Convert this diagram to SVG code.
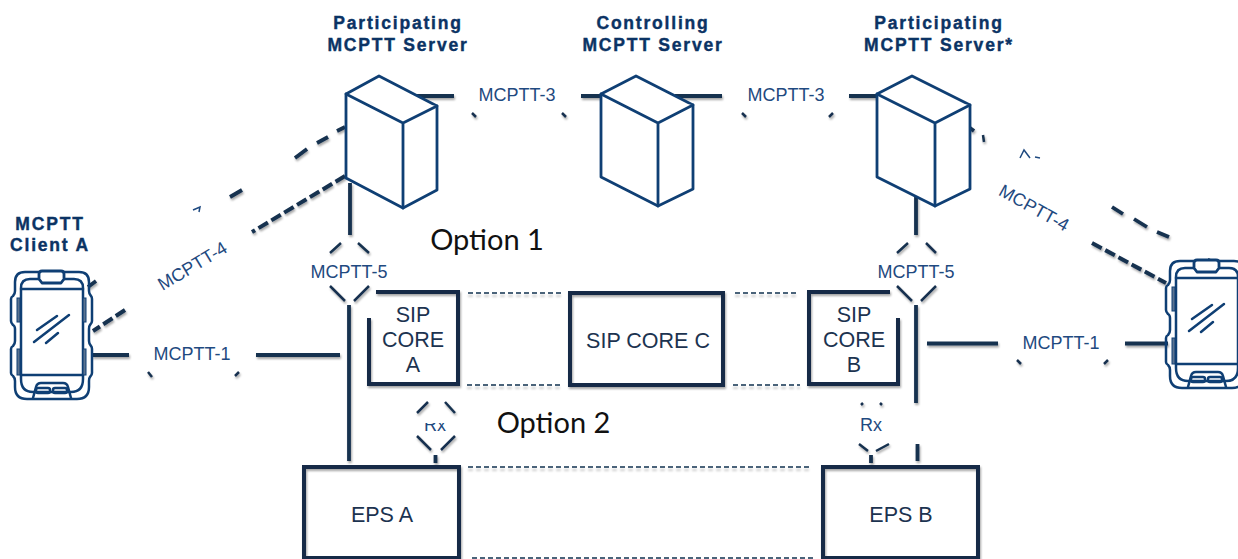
<svg xmlns="http://www.w3.org/2000/svg" width="1238" height="559" viewBox="0 0 1238 559">
<style>
text{font-family:"Liberation Sans",Arial,sans-serif;text-anchor:middle}
.h{font-weight:700;font-size:17.500px;letter-spacing:1.800px;fill:#0b3364;stroke:#0b3364;stroke-width:.4}
.l{font-size:18px;fill:#1f4a80}
.s{font-size:21.500px;fill:#1c3350}
.o{font-family:Lato,"Open Sans",sans-serif;font-size:29px;fill:#111}
.b{fill:none;stroke:#132c47;stroke-width:4;filter:url(#sh)}
.c{fill:#fff;stroke:#0f3f74;stroke-width:2.800;stroke-linejoin:round;stroke-linecap:round}
.p{fill:none;stroke:#0f3f74;stroke-width:2.500;stroke-linejoin:round;stroke-linecap:round}
.k{fill:#5b7390;stroke:#0f3f74;stroke-width:1}
.f{fill:none;stroke:#16304f;stroke-width:3.800;filter:url(#sh)}
.t{fill:none;stroke:#16304f;stroke-width:2.500;filter:url(#sh)}
.d2{fill:none;stroke:#16304f;stroke-width:4;stroke-dasharray:11 4;filter:url(#sh)}
.d3{fill:none;stroke:#16304f;stroke-width:1.300;stroke-dasharray:5 3;filter:url(#sl)}
.g{fill:none;stroke:#1f4a80;stroke-width:1.500}
</style>
<defs>
<filter id="sh" filterUnits="userSpaceOnUse" x="0" y="0" width="1238" height="559"><feDropShadow dx="1" dy="2" stdDeviation="1.200" flood-color="#000" flood-opacity=".35"/></filter>
<filter id="sl" filterUnits="userSpaceOnUse" x="0" y="0" width="1238" height="559"><feDropShadow dx="0" dy="3" stdDeviation="1.200" flood-color="#000" flood-opacity=".25"/></filter>
<clipPath id="rx"><rect x="410" y="423" width="50" height="8"/></clipPath>
<symbol id="phone" overflow="visible">
<path class="p" d="M14 1H68Q78 1 78 11V20Q78 23 80 25Q81 26 81 28V50Q81 52 79 54Q78 55 78 58V70Q78 73 80 75Q81 76 81 78V102Q81 104 79 106Q78 107 78 110V116Q78 128 66 128H16Q4 128 4 116V110Q4 107 2 105Q0 104 0 102V78Q0 76 2 75Q4 73 4 70V58Q4 55 2 54Q0 52 0 50V28Q0 26 2 25Q4 23 4 20V11Q4 1 14 1Z"/>
<path class="p" d="M19 8H63Q72 8 72 17V108Q72 121 60 121H22Q10 121 10 108V17Q10 8 19 8Z"/>
<path class="p" d="M10 18H72M10 104H72"/>
<path class="c" d="M31 0H50Q53 0 53 3V8L50 12H31L28 8V3Q28 0 31 0Z"/>
<path class="p" d="M22 127L25 116Q26 112 30 112H52Q56 112 57 116L60 127"/>
<rect class="p" x="25" y="117" width="14" height="5" rx="2"/>
<rect class="p" x="42" y="117" width="14" height="5" rx="2"/>
<rect class="k" x="6" y="27" width="3" height="24"/><rect class="k" x="6" y="78" width="3" height="26"/>
<rect class="k" x="72" y="27" width="3" height="24"/><rect class="k" x="72" y="78" width="3" height="26"/>
<path class="p" d="M26 59L46 45M23 71L58 44M35 72L47 62"/>
</symbol>
</defs>
<g id="connectors">
<path class="f" d="M416 96H454M581 96H601M675 96H722M849 96H877"/>
<path class="t" d="M472 113L476 117M566 117L562 113M742 113L746 117M829 117L833 113"/>
<path class="f" d="M350 183V235M349 305V461M92 355H129M256 355H340"/>
<path class="t" d="M148 372L152 377M235 376L239 372"/>
<path class="t" d="M330 253L341 243M358 243L369 253M330 286L345 301M369 286L354 301"/>
<path class="f" d="M916 197V235M916 305V403M917.500 444V461M927 343.500H998M1125 343.500H1168"/>
<path class="t" d="M1017 360L1021 364M1104 364L1108 360"/>
<path class="t" d="M897 253L908 243M926 243L936 253M897 286L912 301M936 286L921 301"/>
<path class="t" d="M417 413L428 402M445 402L455 413M417 436L431 450M455 436L441 450"/>
<path class="f" d="M435.500 455V463M871 455V463"/>
<path class="t" d="M861 405L863 403M880 403L882 405M859 444L868 451M889 444L876 451"/>
<path class="f" d="M345 127L337 131M328 137L317 143M307 149L295 158M242 190L230 197M96 281L88 287"/>
<path class="d2" d="M345 176L252 232M125 310L93 331"/>
<path class="f" d="M970 128L974 131M1112 207L1123 214M1134 219L1147 227M1157 232L1169 237"/>
<path class="d2" d="M1092 243L1166 283"/>
<path class="t" d="M983 135L984 142M1208 259L1212 261"/>
<path class="g" d="M1020 158L1024 150L1030 158M1035 157L1040 158M193 210L200 207L199 212"/>
<path class="d3" d="M468 293H561M735 293H798M467 385H561M733 385H800M468 467H811M472 558H815"/>
</g>
<g id="server-a">
<path class="c" d="M346 94L379 76L437 106V190L403 208L346 178Z"/>
<path class="c" d="M346 94L403 123L437 106M403 123V208"/>
<text class="h" x="398" y="29">Participating</text>
<text class="h" x="398" y="51">MCPTT Server</text>
</g>
<g id="server-c">
<path class="c" d="M601 94L636 76L693 105V189L658 206L601 177Z"/>
<path class="c" d="M601 94L658 123L693 105M658 123V206"/>
<text class="h" x="653" y="29">Controlling</text>
<text class="h" x="653" y="51">MCPTT Server</text>
</g>
<g id="server-b">
<path class="c" d="M877 94L912 76L970 105V189L935 206L877 177Z"/>
<path class="c" d="M877 94L935 123L970 105M935 123V206"/>
<text class="h" x="939" y="29">Participating</text>
<text class="h" x="939" y="51">MCPTT Server*</text>
</g>
<g id="client-a">
<use href="#phone" x="11" y="271"/>
<text class="h" x="50" y="230">MCPTT</text>
<text class="h" x="50" y="251">Client A</text>
</g>
<g id="client-b"><use href="#phone" x="1166" y="260"/></g>
<g id="sip-a"><path class="b" d="M376 292H458V384H369V318"/>
<text class="s" x="413" y="322">SIP</text><text class="s" x="413" y="347">CORE</text><text class="s" x="413" y="372">A</text></g>
<g id="sip-c"><rect class="b" x="570" y="293" width="153" height="92"/>
<text class="s" x="648" y="348">SIP CORE C</text></g>
<g id="sip-b"><path class="b" d="M890 292H809V384H898V318"/>
<text class="s" x="854" y="322">SIP</text><text class="s" x="854" y="347">CORE</text><text class="s" x="854" y="372">B</text></g>
<g id="eps-a"><rect class="b" x="304" y="467" width="155" height="91"/><text class="s" x="382" y="522">EPS A</text></g>
<g id="eps-b"><rect class="b" x="823" y="467" width="155" height="91"/><text class="s" x="901" y="522">EPS B</text></g>
<g id="labels">
<text class="l" x="517" y="101">MCPTT-3</text>
<text class="l" x="786" y="101">MCPTT-3</text>
<text class="l" x="192" y="360">MCPTT-1</text>
<text class="l" x="1061" y="349">MCPTT-1</text>
<text class="l" x="349" y="278">MCPTT-5</text>
<text class="l" x="916" y="278">MCPTT-5</text>
<text class="l" x="193" y="272" transform="rotate(-31 193 267)">MCPTT-4</text>
<text class="l" x="1034" y="214" transform="rotate(29 1034 208)">MCPTT-4</text>
<text class="l" x="435" y="431" clip-path="url(#rx)">Rx</text>
<text class="l" x="871" y="431">Rx</text>
<text class="o" x="487" y="250">Option 1</text>
<text class="o" x="553.500" y="433">Option 2</text>
</g>
</svg>
